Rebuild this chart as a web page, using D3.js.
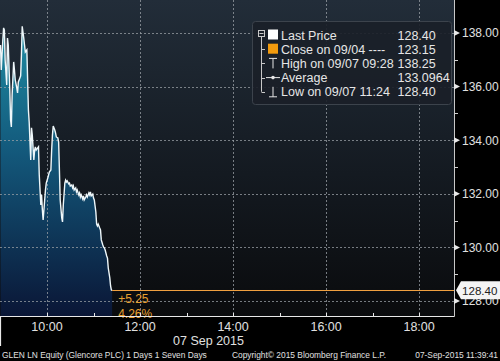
<!DOCTYPE html>
<html><head><meta charset="utf-8">
<script src="https://cdn.jsdelivr.net/npm/d3@7"></script>
<style>
html,body{margin:0;padding:0;background:#000;}
svg{display:block;font-family:"Liberation Sans",Arial,sans-serif;}
</style></head>
<body><svg id="c" width="500" height="361"></svg>
<script>
const times = ["09:00","09:01","09:03","09:04","09:05","09:06","09:08","09:09","09:10","09:12","09:13","09:14","09:15","09:17","09:18","09:19","09:21","09:22","09:23","09:25","09:26","09:27","09:28","09:30","09:31","09:32","09:34","09:35","09:36","09:37","09:39","09:40","09:41","09:43","09:44","09:45","09:46","09:48","09:49","09:50","09:52","09:53","09:54","09:55","09:57","09:58","09:59","10:01","10:02","10:03","10:05","10:06","10:07","10:08","10:10","10:11","10:12","10:14","10:15","10:16","10:17","10:19","10:20","10:21","10:23","10:24","10:25","10:26","10:28","10:29","10:30","10:32","10:33","10:34","10:35","10:37","10:38","10:39","10:41","10:42","10:43","10:44","10:46","10:47","10:48","10:50","10:51","10:52","10:54","10:55","10:56","10:57","10:59","11:00","11:01","11:03","11:04","11:05","11:06","11:08","11:09","11:10","11:12","11:13","11:14","11:15","11:17","11:18","11:19","11:21","11:22","11:23","11:24"];
const prices = [137.55,136.62,137.74,138.19,138.11,136.99,136.06,137.81,137.55,135.87,134.75,134.49,135.69,136.92,136.62,136.25,135.95,135.76,136.17,136.32,136.40,137.18,138.25,137.81,137.55,137.29,137.37,136.25,135.13,134.68,133.26,134.46,134.19,133.26,133.63,133.75,133.63,133.71,133.75,132.70,131.58,131.96,131.40,131.02,131.77,132.14,132.40,132.59,132.70,132.81,132.89,133.63,134.19,134.53,134.38,134.27,134.12,134.08,133.93,132.89,131.77,131.10,130.95,131.58,132.40,132.51,132.44,132.48,132.37,132.40,132.29,132.33,132.22,132.29,132.14,132.22,132.07,132.14,131.96,132.03,131.88,131.96,131.81,131.92,131.77,131.88,131.96,131.88,132.03,131.96,132.07,131.92,131.99,131.84,131.77,131.32,130.87,130.80,130.87,130.72,130.65,130.28,130.09,130.01,129.98,129.90,129.68,129.60,129.23,128.86,128.56,128.41,128.40];
const yMajor = [128,130,132,134,136,138];
const yMinor = [129,131,133,135,137];
const xMajorLabels = ["10:00","12:00","14:00","16:00","18:00"];
const xMinor = ["11:00","13:00","15:00","17:00"];
const lastPrice = 128.40;
const changeLabels = ["+5.25","4.26%"];
const legendNames = ["Last Price","Close on 09/04 ----","High on 09/07 09:28","Average","Low on 09/07 11:24"];
const legendValues = ["128.40","123.15","138.25","133.0964","128.40"];
const dateLabel = "07 Sep 2015";
const footer = ["GLEN LN Equity (Glencore PLC) 1 Days 1 Seven Days","Copyright\u00A9 2015 Bloomberg Finance L.P.","07-Sep-2015 11:39:41"];

const parse = s => { const [h,m] = s.split(":").map(Number); return new Date(2015,8,7,h,m); };
const data = times.map((t,i)=>({t:parse(t), v:prices[i]}));

const W = 454, H = 316;
const svg = d3.select("#c");
const x = d3.scaleTime().domain([parse("09:00"), parse("18:45")]).range([0.5, W]);
const y = d3.scaleLinear().domain([127.44, 139.23]).range([H, 0]);

const defs = svg.append("defs");
const bg = defs.append("linearGradient").attr("id","bg").attr("x1",0).attr("y1",0).attr("x2",0).attr("y2",1);
bg.append("stop").attr("offset","0%").attr("stop-color","#222d39");
bg.append("stop").attr("offset","55%").attr("stop-color","#141a21");
bg.append("stop").attr("offset","100%").attr("stop-color","#0a0b0d");
const ag = defs.append("linearGradient").attr("id","ag").attr("gradientUnits","userSpaceOnUse")
  .attr("x1",0).attr("y1",20).attr("x2",0).attr("y2",H);
ag.append("stop").attr("offset","0%").attr("stop-color","#1f8fa5");
ag.append("stop").attr("offset","45%").attr("stop-color","#13587b");
ag.append("stop").attr("offset","100%").attr("stop-color","#0a1636");

svg.append("rect").attr("width",500).attr("height",361).attr("fill","#000");
svg.append("rect").attr("x",0).attr("y",0).attr("width",W).attr("height",H).attr("fill","url(#bg)");

svg.append("path").datum(data)
  .attr("d", d3.area().x(d=>x(d.t)).y0(H).y1(d=>y(d.v)))
  .attr("fill","url(#ag)");

// grid
const g = svg.append("g");
g.selectAll(".hg").data(yMajor).join("line")
  .attr("x1",0).attr("x2",W).attr("y1",d=>Math.round(y(d))+0.5).attr("y2",d=>Math.round(y(d))+0.5)
  .attr("stroke","#9aa0a6").attr("stroke-width",1).attr("stroke-dasharray","2,2").attr("opacity",0.75);
g.selectAll(".vg").data(xMajorLabels).join("line")
  .attr("y1",0).attr("y2",H).attr("x1",d=>Math.round(x(parse(d)))+0.5).attr("x2",d=>Math.round(x(parse(d)))+0.5)
  .attr("stroke","#9aa0a6").attr("stroke-width",1).attr("stroke-dasharray","2,2").attr("opacity",0.75);

svg.append("path").datum(data)
  .attr("d", d3.line().x(d=>x(d.t)).y(d=>y(d.v)))
  .attr("fill","none").attr("stroke","#eef7fa").attr("stroke-width",1.4);

// last price orange line
const last = data[data.length-1];
svg.append("line").attr("x1",x(last.t)).attr("x2",W).attr("y1",Math.round(y(lastPrice))+0.5).attr("y2",Math.round(y(lastPrice))+0.5)
  .attr("stroke","#f0a040").attr("stroke-width",1);
svg.selectAll(".chg").data(changeLabels).join("text")
  .attr("x",x(last.t)+6).attr("y",(d,i)=>y(lastPrice)+13+i*15)
  .attr("fill","#e8a030").attr("font-size",12).text(d=>d);

// axes lines
svg.append("line").attr("x1",0).attr("x2",W+0.5).attr("y1",H+0.5).attr("y2",H+0.5).attr("stroke","#e8e8e8").attr("stroke-width",1.2);
svg.append("line").attr("x1",W+0.5).attr("x2",W+0.5).attr("y1",0).attr("y2",H+0.5).attr("stroke","#c8c8c8").attr("stroke-width",1);
svg.append("line").attr("x1",0.5).attr("x2",0.5).attr("y1",H).attr("y2",346).attr("stroke","#e8e8e8").attr("stroke-width",1.2);

// x ticks
svg.selectAll(".xt").data(xMajorLabels.concat(xMinor)).join("line")
  .attr("x1",d=>Math.round(x(parse(d)))+0.5).attr("x2",d=>Math.round(x(parse(d)))+0.5)
  .attr("y1",H-3).attr("y2",H).attr("stroke","#e8e8e8");
svg.selectAll(".xl").data(xMajorLabels).join("text")
  .attr("x",d=>x(parse(d))).attr("y",331).attr("text-anchor","middle")
  .attr("fill","#e0e0e0").attr("font-size",12.5).text(d=>d);
svg.append("text").attr("x",208.5).attr("y",345).attr("text-anchor","middle").attr("fill","#e0e0e0").attr("font-size",12.5).text(dateLabel);

// y ticks
svg.selectAll(".ym").data(yMinor).join("line")
  .attr("x1",W).attr("x2",W+4).attr("y1",d=>Math.round(y(d))+0.5).attr("y2",d=>Math.round(y(d))+0.5).attr("stroke","#d0d0d0");
svg.selectAll(".ya").data(yMajor).join("path")
  .attr("d",d=>{const yy=y(d); return `M${W},${yy-3}L${W+6},${yy}L${W},${yy+3}Z`;}).attr("fill","#e8e8e8");
svg.selectAll(".yl").data(yMajor).join("text")
  .attr("x",W+8).attr("y",d=>y(d)+4.5).attr("fill","#e0e0e0").attr("font-size",12).text(d=>d.toFixed(2));

// last price tag
const ly = y(lastPrice);
svg.append("path").attr("d",`M${W+2},${ly}L${W+7},${ly-9}H500V${ly+9}H${W+7}Z`).attr("fill","#f4f4f4");
svg.append("text").attr("x",W+8).attr("y",ly+4.5).attr("fill","#222").attr("font-size",11.6).text(lastPrice.toFixed(2));

// legend
const lg = svg.append("g");
lg.append("rect").attr("x",252.5).attr("y",21.5).attr("width",199).attr("height",83).attr("rx",3)
  .attr("fill","#1a2028").attr("fill-opacity",0.92).attr("stroke","#3c434c");
const rowY = i => 35 + i*14.2;
lg.selectAll(".ln").data(legendNames).join("text").attr("x",281).attr("y",(d,i)=>rowY(i)+4.5)
  .attr("fill","#e6e6e6").attr("font-size",12.5).text(d=>d);
lg.selectAll(".lv").data(legendValues).join("text").attr("x",397.5).attr("y",(d,i)=>rowY(i)+4.5)
  .attr("fill","#e6e6e6").attr("font-size",12.5).text(d=>d);
lg.append("rect").attr("x",258.5).attr("y",30.5).attr("width",6).attr("height",6).attr("fill","none").attr("stroke","#c8c8c8");
lg.append("line").attr("x1",259.5).attr("x2",263.5).attr("y1",33.5).attr("y2",33.5).attr("stroke","#c8c8c8");
lg.append("line").attr("x1",261.5).attr("x2",261.5).attr("y1",37).attr("y2",rowY(4)).attr("stroke","#c8c8c8");
[1,2,3,4].forEach(i=>lg.append("line").attr("x1",261.5).attr("x2",265).attr("y1",Math.round(rowY(i))+0.5).attr("y2",Math.round(rowY(i))+0.5).attr("stroke","#c8c8c8"));
lg.append("rect").attr("x",268).attr("y",rowY(0)-5.5).attr("width",10).attr("height",10).attr("fill","#ffffff");
lg.append("rect").attr("x",268).attr("y",rowY(1)-5.5).attr("width",10).attr("height",10).attr("fill","#f29b0e");
lg.append("path").attr("d",`M269,${rowY(2)-5}H277M273,${rowY(2)-5}V${rowY(2)+5}`).attr("stroke","#e6e6e6").attr("fill","none");
lg.append("path").attr("d",`M266,${rowY(3)}H280`).attr("stroke","#e6e6e6");
lg.append("circle").attr("cx",273).attr("cy",rowY(3)).attr("r",1.8).attr("fill","#e6e6e6");
lg.append("path").attr("d",`M273,${rowY(4)-5}V${rowY(4)+5}M269,${rowY(4)+5}H277`).attr("stroke","#e6e6e6").attr("fill","none");

// footer
svg.append("text").attr("x",2).attr("y",358).attr("fill","#e0e0e0").attr("font-size",8.4).text(footer[0]);
svg.append("text").attr("x",232).attr("y",358).attr("fill","#e0e0e0").attr("font-size",8.4).text(footer[1]);
svg.append("text").attr("x",498).attr("y",358).attr("text-anchor","end").attr("fill","#e0e0e0").attr("font-size",8.4).text(footer[2]);
</script></body></html>
